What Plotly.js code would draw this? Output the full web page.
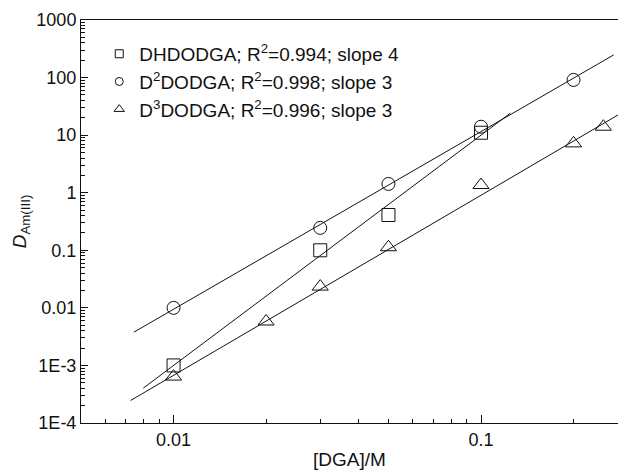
<!DOCTYPE html>
<html>
<head>
<meta charset="utf-8">
<script src="https://cdn.plot.ly/plotly-3.0.1.min.js"></script>
<style>html,body{margin:0;padding:0;background:#fff}#chart{width:618px;height:471px}</style>
</head>
<body>
<div id="chart"></div>
<script>
// Data points
const dhX = [0.01, 0.03, 0.05, 0.1];
const dhY = [0.001, 0.1, 0.41, 11];
const d2X = [0.01, 0.03, 0.05, 0.1, 0.2];
const d2Y = [0.01, 0.245, 1.42, 14, 91];
const d3X = [0.01, 0.02, 0.03, 0.05, 0.1, 0.2, 0.25];
const d3Y = [0.00064, 0.0058, 0.0234, 0.113, 1.36, 7.2, 14];

// Fitted line end points
const dhFitX = [0.00797, 0.1245];
const dhFitY = [0.000403, 24];
const d2FitX = [0.00743, 0.27];
const d2FitY = [0.00378, 247];
const d3FitX = [0.00725, 0.279];
const d3FitY = [0.000246, 22.4];

// Tick labels
const yTickVals = [1e-4, 1e-3, 0.01, 0.1, 1, 10, 100, 1000];
const yTickText = ['1E-4', '1E-3', '0.01', '0.1', '1', '10', '100', '1000'];
const yMinorVals = [];
for (const d of [1e-4, 1e-3, 0.01, 0.1, 1, 10, 100]) {
  for (const m of [2, 3, 4, 5, 6, 7, 8, 9]) yMinorVals.push(+(d * m).toPrecision(3));
}
const xTickVals = [0.01, 0.1];
const xTickText = ['0.01', '0.1'];

const names = [
  'DHDODGA; R<sup>2</sup>=0.994; slope 4',
  'D<sup>2</sup>DODGA; R<sup>2</sup>=0.998; slope 3',
  'D<sup>3</sup>DODGA; R<sup>2</sup>=0.996; slope 3'
];
const symbols = ['square-open', 'circle-open', 'triangle-up-open'];

const ink = '#111';
const lineStyle = {color: ink, width: 1};
const mk = (sym, size) => ({symbol: sym, size: size, color: ink, line: {color: ink, width: 1}});

const traces = [
  {x: dhFitX, y: dhFitY, mode: 'lines', line: lineStyle, showlegend: false, hoverinfo: 'skip'},
  {x: d2FitX, y: d2FitY, mode: 'lines', line: lineStyle, showlegend: false, hoverinfo: 'skip'},
  {x: d3FitX, y: d3FitY, mode: 'lines', line: lineStyle, showlegend: false, hoverinfo: 'skip'},
  {x: dhX, y: dhY, mode: 'markers', showlegend: false, marker: mk(symbols[0], 13)},
  {x: d2X, y: d2Y, mode: 'markers', showlegend: false, marker: mk(symbols[1], 13)},
  {x: d3X, y: d3Y, mode: 'markers', showlegend: false, marker: mk(symbols[2], 14)}
];
// legend entries (smaller symbols, as in the reference key)
names.forEach((n, i) => {
  traces.push({x: [null], y: [null], mode: 'markers', name: n, marker: mk(symbols[i], i === 2 ? 9 : 8)});
});
// carrier for the minor-tick overlay axis (fully transparent)
traces.push({x: d3X, y: d3Y, yaxis: 'y2', mode: 'markers', marker: {opacity: 0}, showlegend: false, hoverinfo: 'skip'});

const fam = '"Liberation Sans", Arial, sans-serif';
const font = {family: fam, size: 18, color: ink};

const layout = {
  width: 618, height: 471,
  margin: {l: 81, r: 0, t: 20, b: 48},
  paper_bgcolor: '#fff', plot_bgcolor: '#fff',
  font: font,
  showlegend: true,
  legend: {x: 0.034, y: 0.963, xanchor: 'left', yanchor: 'top', bgcolor: 'rgba(0,0,0,0)',
           font: {family: fam, size: 19, color: ink}, tracegroupgap: 0},
  xaxis: {
    type: 'log', range: [Math.log10(0.005), Math.log10(0.279)],
    tickvals: xTickVals, ticktext: xTickText,
    ticks: 'inside', ticklen: 8, tickwidth: 1, tickcolor: ink,
    showline: true, linecolor: ink, linewidth: 1, mirror: true,
    showgrid: false, zeroline: false,
    minor: {ticks: 'inside', ticklen: 4, tickwidth: 1, tickcolor: ink, dtick: 'D1', showgrid: false},
    title: {text: '[DGA]/M', font: {family: fam, size: 19, color: ink}, standoff: 4},
    tickfont: font
  },
  yaxis: {
    type: 'log', range: [-4, 3],
    tickmode: 'array', tickvals: yTickVals, ticktext: yTickText,
    ticks: 'inside', ticklen: 7, tickwidth: 1, tickcolor: ink,
    showline: true, linecolor: ink, linewidth: 1,
    showgrid: false, zeroline: false,
    title: {text: '<i>D</i><sub>Am(III)</sub>', font: {family: fam, size: 19, color: ink}, standoff: 4},
    tickfont: font
  },
  yaxis2: {
    type: 'log', range: [-4, 3], overlaying: 'y', anchor: 'x', side: 'left',
    tickmode: 'array', tickvals: yMinorVals, ticktext: yMinorVals.map(() => ''),
    ticks: 'inside', ticklen: 4, tickwidth: 1, tickcolor: ink,
    showticklabels: true, showline: false, showgrid: false, zeroline: false
  }
};

Plotly.newPlot('chart', traces, layout, {displayModeBar: false, staticPlot: true});
</script>
</body>
</html>
